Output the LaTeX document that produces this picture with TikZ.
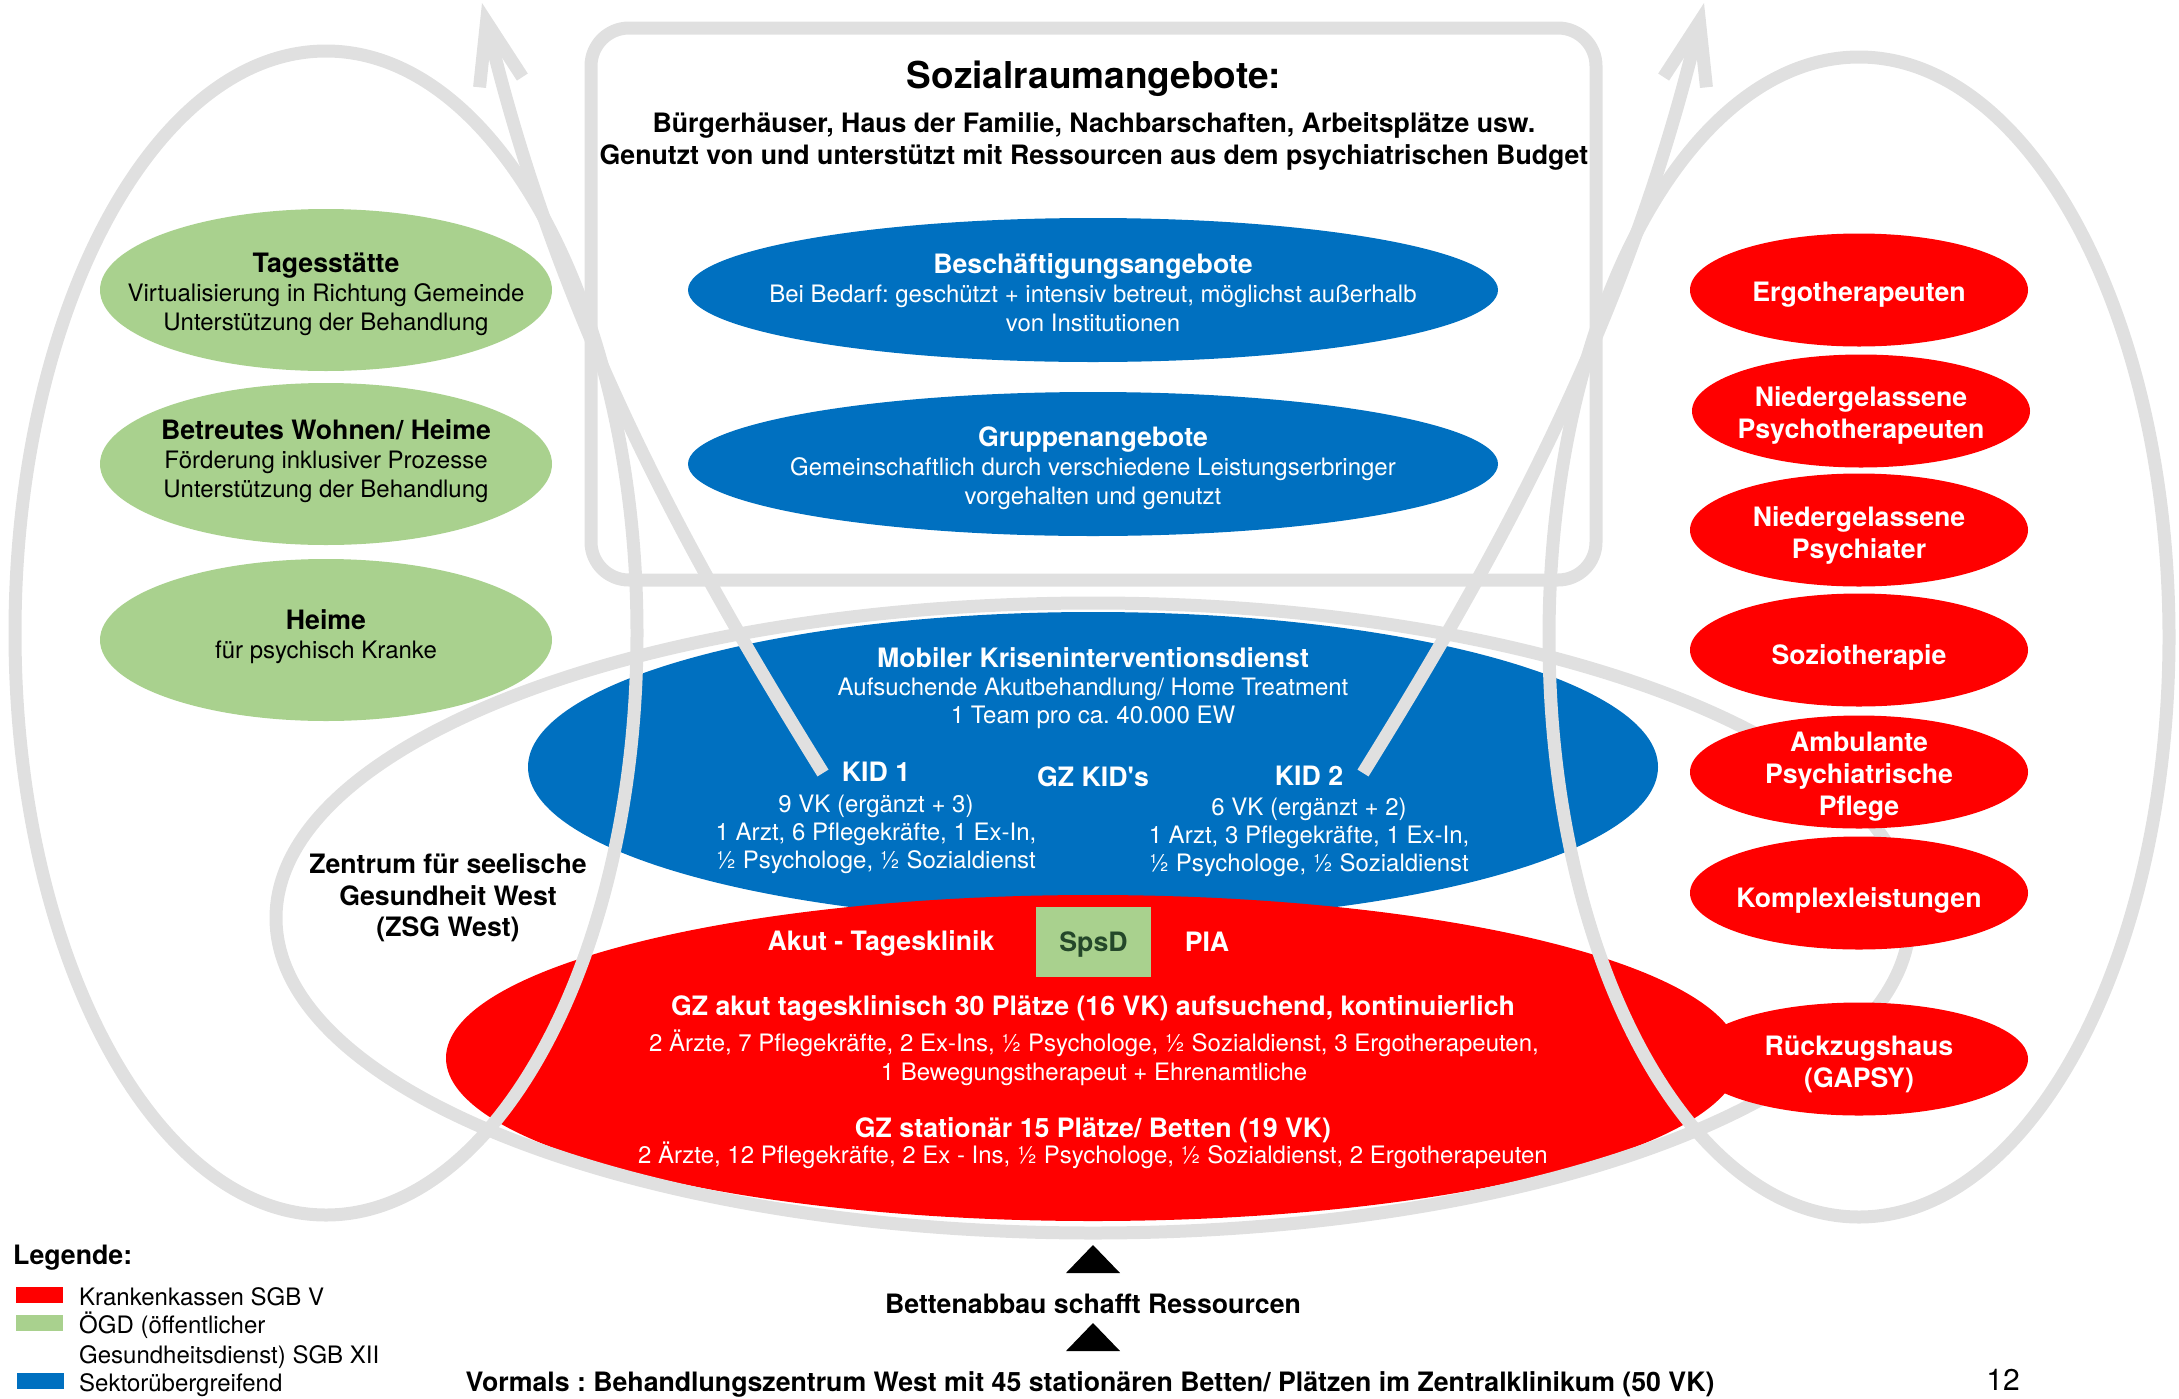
\documentclass[tikz,border=0pt]{standalone}
\usepackage{fontspec}
\setmainfont{TeX Gyre Heros}[Ligatures=TeXOff]
\usetikzlibrary{shapes.geometric,arrows.meta}
\definecolor{cblue}{HTML}{0070C0}
\definecolor{cred}{HTML}{FF0000}
\definecolor{cgreen}{HTML}{A9D18E}
\definecolor{cgray}{HTML}{E0E0E0}
\definecolor{cdkgreen}{HTML}{24472A}
\newcommand\myreg{\fontsize{24}{29}\selectfont}
\newcommand\mybold{\fontsize{26.7}{32}\selectfont\bfseries}
\newcommand\myhead[1]{{\fontsize{26.7}{29}\selectfont\bfseries #1}}
\frenchspacing
\begin{document}
\frenchspacing
\begin{tikzpicture}[x=1pt,y=-1pt,
  blob/.style={ellipse, inner sep=0pt, draw=none},
  greenblob/.style={blob, fill=cgreen, minimum width=452pt, minimum height=162pt},
  redblob/.style={blob, fill=cred, minimum width=338pt, minimum height=113pt},
  blueblob/.style={blob, fill=cblue, minimum width=810pt, minimum height=144pt},
  grayloop/.style={blob, draw=cgray, line width=13pt},
  grayline/.style={draw=cgray, line width=13pt},
  txt/.style={align=center, inner sep=0pt},
  wtxt/.style={txt, text=white},
  rtxt/.style={wtxt, font=\mybold},
  legbox/.style={fill=#1, minimum width=47pt, minimum height=16pt, inner sep=0pt},
  barb/.style={-{Straight Barb[length=62pt,width=44pt]}}
]
\useasboundingbox (0,0) rectangle (2179,1398);

% frame of the Sozialraum
\node[draw=cgray, line width=13pt, rounded corners=38pt, minimum width=1005pt, minimum height=552pt, inner sep=0pt] (box) at (1093.5,304) {};

% green ellipses
\node[greenblob] (tag) at (326,290) {};
\node[greenblob] (bw) at (326,464) {};
\node[greenblob] (heime) at (326,640) {};

% blue ellipses in the frame
\node[blueblob] (besch) at (1093,290) {};
\node[blueblob] (grup) at (1093,464) {};

% big blue and red
\node[blob, fill=cblue, minimum width=1130pt, minimum height=310pt] (mkid) at (1093,767) {};
\node[blob, fill=cred, minimum width=1294pt, minimum height=326pt] (akut) at (1093,1058) {};
\node[fill=cgreen, minimum width=115pt, minimum height=70pt, inner sep=0pt, text=cdkgreen, font=\mybold, text height=19.4pt, text depth=0pt] (spsd) at (1093.5,942) {SpsD};

% ZSG loop
\node[grayloop, minimum width=1634pt, minimum height=630pt] (zsg) at (1093,918) {};

% right red ellipses
\node[redblob] (ergo) at (1859,290) {};
\node[redblob] (npt) at (1861,411) {};
\node[redblob] (nps) at (1859,530) {};
\node[redblob] (sozio) at (1859,650) {};
\node[redblob] (apf) at (1859,772) {};
\node[redblob] (komp) at (1859,893) {};
\node[redblob] (rzh) at (1859,1059) {};

% side loops
\node[grayloop, minimum width=622pt, minimum height=1164pt] (loopL) at (326,633) {};
\node[grayloop, minimum width=620pt, minimum height=1160pt] (loopR) at (1859,637) {};

% arrows
\coordinate (a1s) at (823,773);
\coordinate (a1t) at (482,3);
\coordinate (a2s) at (1363,773);
\coordinate (a2t) at (1704,3);
\draw[grayline, barb] (a1s) .. controls (699,573) and (561,333) .. (a1t);
\draw[grayline, barb] (a2s) .. controls (1487,573) and (1625,333) .. (a2t);

% texts in frame
\node[txt, font=\fontsize{37}{44}\selectfont\bfseries, anchor=base] (title) at (1094,88) {Sozialraumangebote:};
\node[txt, font=\mybold] (sub) at (1094,141) {Bürgerhäuser, Haus der Familie, Nachbarschaften, Arbeitsplätze usw.\\Genutzt von und unterstützt mit Ressourcen aus dem psychiatrischen Budget};
\node[wtxt, font=\myreg] (beschT) at (besch.center) [yshift=-3pt] {\myhead{Beschäftigungsangebote}\\Bei Bedarf: geschützt + intensiv betreut, möglichst außerhalb\\von Institutionen};
\node[wtxt, font=\myreg] (grupT) at (grup.center) [yshift=-4pt] {\myhead{Gruppenangebote}\\Gemeinschaftlich durch verschiedene Leistungserbringer\\vorgehalten und genutzt};

% green texts
\node[txt, font=\myreg] (tagT) at (326,294) {\myhead{Tagesstätte}\\Virtualisierung in Richtung Gemeinde\\Unterstützung der Behandlung};
\node[txt, font=\myreg] (bwT) at (326,461) {\myhead{Betreutes Wohnen/ Heime}\\Förderung inklusiver Prozesse\\Unterstützung der Behandlung};
\node[txt, font=\myreg] (heimeT) at (326,637) {\myhead{Heime}\\für psychisch Kranke};

% red right texts
\node[rtxt] (ergoT) at (1859,295) {Ergotherapeuten};
\node[rtxt] (nptT) at (1861,415) {Niedergelassene\\Psychotherapeuten};
\node[rtxt] (npsT) at (1859,535) {Niedergelassene\\Psychiater};
\node[rtxt] (soziT) at (1859,657) {Soziotherapie};
\node[rtxt] (apfT) at (1859,777) {Ambulante\\Psychiatrische\\Pflege};
\node[rtxt] (kompT) at (1859,900) {Komplexleistungen};
\node[rtxt] (rzhT) at (1859,1064) {Rückzugshaus\\(GAPSY)};

% big blue texts
\node[wtxt, font=\fontsize{24}{28}\selectfont] (mobT) at (1093,688) {\myhead{Mobiler Kriseninterventionsdienst}\\Aufsuchende Akutbehandlung/ Home Treatment\\1 Team pro ca. 40.000 EW};
\node[wtxt, font=\fontsize{24}{28}\selectfont] (kid1) at (876,818) {\myhead{KID 1}\\[3pt]9 VK (ergänzt + 3)\\1 Arzt, 6 Pflegekräfte, 1 Ex-In,\\½ Psychologe, ½ Sozialdienst};
\node[wtxt, font=\mybold, anchor=base] (gzkid) at (1093,786) {GZ KID's};
\node[wtxt, font=\fontsize{24}{28}\selectfont] (kid2) at (1309,821) {\myhead{KID 2}\\[2pt]6 VK (ergänzt + 2)\\1 Arzt, 3 Pflegekräfte, 1 Ex-In,\\½ Psychologe, ½ Sozialdienst};

% big red texts
\node[wtxt, font=\mybold, anchor=base] (akutT) at (881,950) {Akut - Tagesklinik};
\node[wtxt, font=\mybold, anchor=base] (pia) at (1207,951) {PIA};
\node[wtxt, font=\mybold, anchor=base] (gzakut) at (1093,1015) {GZ akut tagesklinisch 30 Plätze (16 VK) aufsuchend, kontinuierlich};
\node[wtxt, font=\myreg] (gzakutT) at (1094,1058) {2 Ärzte, 7 Pflegekräfte, 2 Ex-Ins, ½ Psychologe, ½ Sozialdienst, 3 Ergotherapeuten,\\1 Bewegungstherapeut + Ehrenamtliche};
\node[wtxt, font=\mybold, anchor=base] (gzstat) at (1093,1137) {GZ stationär 15 Plätze/ Betten (19 VK)};
\node[wtxt, font=\myreg, anchor=base] (gzstatT) at (1093,1163) {2 Ärzte, 12 Pflegekräfte, 2 Ex - Ins, ½ Psychologe, ½ Sozialdienst, 2 Ergotherapeuten};

% ZSG label
\node[txt, font=\fontsize{26.7}{31.5}\selectfont\bfseries] (zsgT) at (448,898) {Zentrum für seelische\\Gesundheit West\\(ZSG West)};

% bottom
\fill (1066,1273) -- (1120,1273) -- (1093,1245) -- cycle;
\fill (1066,1351) -- (1120,1351) -- (1093,1323) -- cycle;
\node[txt, font=\mybold, anchor=base] (betten) at (1093,1313) {Bettenabbau schafft Ressourcen};
\node[txt, font=\mybold, anchor=base] (vormals) at (1090,1391) {Vormals : Behandlungszentrum West mit 45 stationären Betten/ Plätzen im Zentralklinikum (50 VK)};
\node[txt, font=\fontsize{30}{36}\selectfont, anchor=base] (pnum) at (2003,1390) {12};

% legend
\node[txt, font=\mybold, anchor=base west] (leg) at (13,1264) {Legende:};
\node[legbox=cred] (l1) at (39.5,1295) {};
\node[legbox=cgreen] (l2) at (39.5,1323) {};
\node[legbox=cblue] (l3) at (40,1381) {};
\node[txt, font=\myreg, anchor=base west] (l1T) at (79,1305) {Krankenkassen SGB V};
\node[txt, font=\myreg, anchor=base west] (l2T) at (79,1333) {ÖGD (öffentlicher};
\node[txt, font=\myreg, anchor=base west] (l2Tb) at (79,1363) {Gesundheitsdienst) SGB XII};
\node[txt, font=\myreg, anchor=base west] (l3T) at (79,1391) {Sektorübergreifend};
\end{tikzpicture}
\end{document}
